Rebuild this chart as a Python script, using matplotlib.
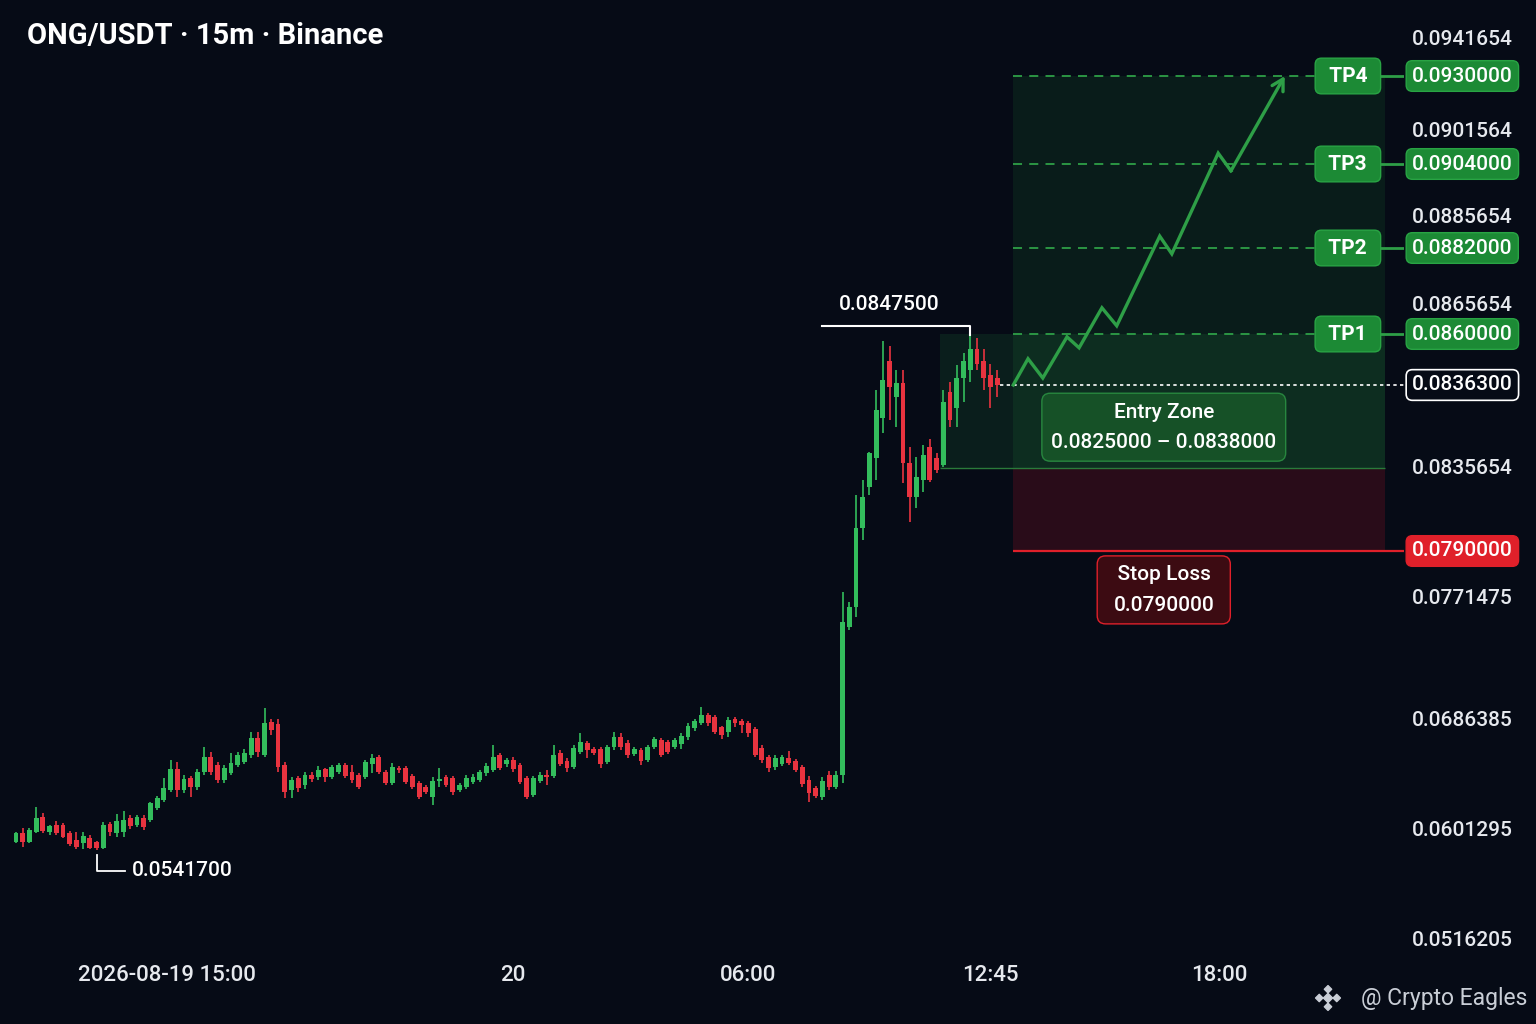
import numpy as np
import matplotlib
matplotlib.use("Agg")
import matplotlib.pyplot as plt
from matplotlib.lines import Line2D
from matplotlib.ticker import FixedLocator, FixedFormatter, NullLocator

# ---- candles (15m) ----
opens = [
    .05481, .05553, .05481, .05561, .05681, .05561, .05617, .05617, .05553, .05497, .05473, .05513,
    .05481, .05433, .05625, .05553, .05561, .05673, .05617, .05673, .05657, .05753, .05817, .05897,
    .06065, .05897, .05993, .05921, .06041, .06161, .06097, .05977, .06033, .06097, .06121, .06177,
    .06313, .06177, .06441, .06425, .06097, .05897, .05993, .05937, .06017, .06001, .06065, .06001,
    .06041, .06097, .06041, .06017, .06001, .06105, .06161, .06041, .05953, .06073, .06073, .06009,
    .05953, .05921, .05841, .05969, .06001, .05993, .05897, .05921, .05961, .05977, .06033, .06057,
    .06177, .06105, .06137, .06097, .05993, .05857, .05969, .06017, .06009, .06193, .06129, .06081,
    .06201, .06273, .06225, .06225, .06121, .06241, .06321, .06273, .06185, .06217, .06137, .06241,
    .06297, .06281, .06241, .06265, .06321, .06393, .06433, .06497, .06481, .06401, .06361, .06465,
    .06449, .06433, .06385, .06233, .06161, .06081, .06105, .06153, .06129, .06081, .05977, .05913,
    .05841, .06017, .05921, .06017, .07201, .07361, .07997, .08170, .08264, .08318, .08419, .08347,
    .08367, .08257, .08128, .08199, .08279, .08264, .08254, .08353, .08332, .08379, .08397, .08446,
    .08419, .08385, .08379,
]
highs = [
    .05561, .05593, .05593, .05761, .05713, .05617, .05649, .05633, .05569, .05561, .05561, .05537,
    .05489, .05641, .05641, .05705, .05729, .05697, .05697, .05697, .05801, .05849, .05993, .06137,
    .06121, .06017, .06009, .06065, .06241, .06201, .06121, .06097, .06193, .06201, .06225, .06361,
    .06361, .06553, .06465, .06465, .06121, .06001, .06009, .06041, .06041, .06089, .06073, .06097,
    .06113, .06113, .06097, .06033, .06137, .06185, .06177, .06057, .06113, .06089, .06089, .06025,
    .05969, .05937, .06001, .06073, .06017, .06009, .05953, .06017, .06025, .06057, .06113, .06257,
    .06193, .06153, .06161, .06113, .06009, .06009, .06041, .06057, .06257, .06217, .06153, .06257,
    .06353, .06289, .06241, .06241, .06257, .06361, .06353, .06297, .06241, .06233, .06257, .06321,
    .06313, .06297, .06313, .06353, .06433, .06465, .06561, .06513, .06497, .06409, .06481, .06481,
    .06465, .06449, .06401, .06257, .06177, .06177, .06177, .06209, .06145, .06097, .06009, .05929,
    .06001, .06049, .06049, .07496, .07401, .08136, .08199, .08272, .08356, .08464, .08453, .08397,
    .08397, .08279, .08265, .08281, .08289, .08270, .08356, .08370, .08408, .08437, .08475, .08471,
    .08446, .08412, .08397,
]
lows = [
    .05473, .05441, .05473, .05553, .05553, .05537, .05537, .05513, .05449, .05425, .05425, .05425,
    .05417, .05425, .05529, .05521, .05521, .05585, .05601, .05577, .05641, .05737, .05801, .05881,
    .05841, .05873, .05841, .05897, .06017, .06017, .05953, .05953, .06017, .06081, .06105, .06153,
    .06161, .06161, .06337, .06041, .05833, .05833, .05881, .05905, .05961, .05977, .05961, .05985,
    .06025, .05993, .05953, .05905, .05985, .06033, .06025, .05937, .05937, .06033, .05945, .05905,
    .05825, .05865, .05777, .05921, .05921, .05857, .05881, .05905, .05945, .05961, .06009, .06041,
    .06057, .06081, .06041, .05945, .05825, .05841, .05953, .05937, .05993, .06089, .06041, .06065,
    .06185, .06153, .06177, .06073, .06105, .06217, .06217, .06153, .06169, .06097, .06121, .06225,
    .06161, .06185, .06225, .06225, .06297, .06369, .06417, .06409, .06345, .06305, .06321, .06401,
    .06353, .06321, .06161, .06113, .06041, .06057, .06089, .06097, .06041, .05921, .05801, .05833,
    .05817, .05897, .05905, .05953, .07177, .07281, .07946, .08136, .08199, .08298, .08315, .08306,
    .08187, .08022, .08081, .08149, .08191, .08229, .08251, .08306, .08306, .08340, .08370, .08397,
    .08356, .08332, .08347,
]
closes = [
    .05553, .05481, .05577, .05673, .05569, .05609, .05553, .05521, .05465, .05441, .05529, .05433,
    .05433, .05617, .05561, .05649, .05657, .05609, .05681, .05601, .05793, .05833, .05913, .06065,
    .05897, .05985, .05921, .06041, .06161, .06041, .05977, .06073, .06113, .06177, .06193, .06313,
    .06201, .06433, .06377, .06081, .05881, .05977, .05913, .06017, .05985, .06057, .06001, .06081,
    .06097, .06009, .05977, .05921, .06121, .06153, .06041, .05953, .06081, .06057, .05961, .05921,
    .05841, .05881, .05969, .05985, .05937, .05881, .05937, .05993, .06001, .06041, .06089, .06161,
    .06073, .06137, .06065, .05961, .05841, .05993, .06017, .06001, .06177, .06105, .06073, .06233,
    .06281, .06217, .06193, .06105, .06241, .06321, .06241, .06177, .06225, .06129, .06241, .06305,
    .06177, .06201, .06297, .06329, .06409, .06449, .06497, .06433, .06361, .06337, .06457, .06433,
    .06417, .06353, .06177, .06137, .06073, .06153, .06161, .06113, .06057, .05945, .05873, .05849,
    .05969, .05921, .06017, .07241, .07361, .07997, .08128, .08270, .08329, .08374, .08360, .08367,
    .08257, .08128, .08212, .08268, .08199, .08242, .08340, .08315, .08379, .08419, .08446, .08412,
    .08379, .08360, .08363,
]

x_tick_pos = [22.5, 74, 109, 145, 179]
x_tick_labels = ["2026-08-19 15:00", "20", "06:00", "12:45", "18:00"]

# right-hand price labels as printed, and where the reference prints them
price_labels = ["0.0941654", "0.0901564", "0.0885654", "0.0865654", "0.0835654",
                "0.0771475", "0.0686385", "0.0601295", "0.0516205"]
price_label_at = [0.0941654, 0.091405, 0.089064, 0.086793, 0.082514,
                  0.074466, 0.06465, 0.05585, 0.04713]

# trade plan
entry_low, entry_high = 0.0825, 0.0838
stop_loss = 0.0790
targets = [0.0860, 0.0882, 0.0904, 0.0930]
target_names = ["TP1", "TP2", "TP3", "TP4"]

# projected path (candle index, price)
proj_idx = [148.4, 150.6, 152.8, 156.4, 158.2, 161.6, 163.8, 170.2, 172.0, 178.9, 180.8, 188.8]
proj_price = [0.08363, 0.08423, 0.08379, 0.08473, 0.08448, 0.08667, 0.08621,
              0.08851, 0.08805, 0.09072, 0.09022, 0.0930]

# the reference price axis is not linear: piecewise scale (price -> pixel row)
scale_price = np.array([0.04217, 0.07417, 0.0790, 0.0825, 0.08363, 0.08475,
                        0.0860, 0.0882, 0.0904, 0.0930, 0.0941654, 0.09706])
scale_row = np.array([1000, 600, 551, 468, 385, 336, 334, 248, 164, 76, 37, -60], dtype=float)


def fwd(p):
    return np.interp(p, scale_price, -scale_row)


def inv(v):
    return np.interp(v, -scale_row, scale_price)


BG = "#060b16"
GREEN = "#33bd5c"
RED = "#e8333f"
LEVEL_GREEN = "#2e9f47"
TEXT = "#e6e9ee"

plt.rcParams["font.family"] = ["Roboto", "DejaVu Sans"]
plt.rcParams["font.weight"] = "medium"

fig = plt.figure(figsize=(15.36, 10.24), dpi=100)
fig.patch.set_facecolor(BG)
ax = fig.add_axes([0, 69 / 1024, 1404 / 1536, 955 / 1024])
ax.set_facecolor(BG)
ax.set_yscale("function", functions=(fwd, inv))
ax.set_ylim(inv(-955), inv(0))
ax.set_xlim(-2.38, 206.55)
for s in ax.spines.values():
    s.set_visible(False)

o = np.array(opens)
h = np.array(highs)
l = np.array(lows)
c = np.array(closes)
idx = np.arange(len(o))
cols = np.where(c >= o, GREEN, RED)

# zones
zone_left, zone_right, entry_shade_left = 148.4, 203.7, 137.5
ax.fill_between([zone_left, zone_right], entry_low, targets[-1], color="#1f8f3c", alpha=0.13, lw=0, zorder=0)
ax.fill_between([entry_shade_left, zone_right], entry_low, targets[0], color="#2aa04a", alpha=0.13, lw=0, zorder=0.5)
ax.hlines(entry_low, entry_shade_left, zone_right, colors="#2a7a3a", lw=1.0, zorder=0.6)
ax.fill_between([zone_left, zone_right], stop_loss, entry_low, color="#b8142a", alpha=0.2, lw=0, zorder=0)

# candles
ax.vlines(idx, l, h, colors=cols, lw=1.2, zorder=2)
ax.bar(idx, np.abs(c - o), bottom=np.minimum(o, c), width=0.72, color=cols, lw=0, zorder=3)

# target lines and tags
tag_x = 198.2
ax.hlines(targets, zone_left, 193.5, colors=LEVEL_GREEN, linestyles=(0, (5, 4)), lw=1.3, zorder=1)
ax.hlines(targets, 202.8, 206.55, colors=LEVEL_GREEN, lw=2.0, zorder=1)
for t, name in zip(targets, target_names):
    ax.text(tag_x, t, f" {name} ", ha="center", va="center", fontsize=15, fontweight="bold",
            color="white", zorder=6,
            bbox=dict(boxstyle="round,pad=0.4,rounding_size=0.3", fc="#1c8a35", ec="#29a444", lw=1))

yax = ax.get_yaxis_transform()
for t in targets:
    ax.text(1.0057, t, f"{t:.7f}", transform=yax, ha="left", va="center", fontsize=15, color="white",
            bbox=dict(boxstyle="round,pad=0.28,rounding_size=0.3", fc="#1c8a35", ec="#29a444", lw=1))

# current price
last = c[-1]
ax.hlines(last, len(o) - 0.6, 206.55, colors="white", linestyles=(0, (2, 2)), lw=1.2, zorder=4)
ax.text(1.0057, last, f"{last:.7f}", transform=yax, ha="left", va="center", fontsize=15, color="white",
        bbox=dict(boxstyle="round,pad=0.28,rounding_size=0.3", fc=BG, ec="white", lw=1.2))

# stop loss
ax.hlines(stop_loss, zone_left, 206.55, colors="#e0202a", lw=1.6, zorder=4)
ax.text(1.0057, stop_loss, f"{stop_loss:.7f}", transform=yax, ha="left", va="center", fontsize=15,
        color="white", bbox=dict(boxstyle="round,pad=0.28,rounding_size=0.3", fc="#e0202a", ec="#e0202a"))

# labels inside the plan
label_x = 170.8
ax.annotate(f"Entry Zone\n{entry_low:.7f} \u2013 {entry_high:.7f}", xy=(label_x, (entry_low + entry_high) / 2),
            xytext=(0, -5), textcoords="offset points", ha="center", va="center", fontsize=15,
            color="white", linespacing=1.75, zorder=6,
            bbox=dict(boxstyle="round,pad=0.45,rounding_size=0.4", fc="#1a5e2a", ec="#2f9e48", alpha=0.75, lw=1))
ax.annotate(f"  Stop Loss  \n{stop_loss:.7f}", xy=(label_x, stop_loss), xytext=(0, -28),
            textcoords="offset points", ha="center", va="center", fontsize=15, color="white",
            linespacing=1.75, zorder=6,
            bbox=dict(boxstyle="round,pad=0.45,rounding_size=0.4", fc="#3c0b12", ec="#e0202a", lw=1))

# projected path
ax.plot(proj_idx[:-1], proj_price[:-1], color=LEVEL_GREEN, lw=2.4, zorder=5, solid_joinstyle="miter")
ax.annotate("", xy=(proj_idx[-1], proj_price[-1]), xytext=(proj_idx[-2], proj_price[-2]),
            arrowprops=dict(arrowstyle="->,head_length=0.8,head_width=0.45", color=LEVEL_GREEN, lw=2.4,
                            shrinkA=0, shrinkB=0), zorder=5)

# axes ticks
ax.yaxis.tick_right()
ax.yaxis.set_major_locator(FixedLocator(price_label_at))
ax.yaxis.set_major_formatter(FixedFormatter(price_labels))
ax.yaxis.set_minor_locator(NullLocator())
ax.tick_params(axis="y", length=0, pad=5.8, labelsize=15, labelcolor=TEXT)
ax.set_xticks(x_tick_pos, x_tick_labels)
ax.tick_params(axis="x", length=0, pad=7, labelsize=16, labelcolor=TEXT)

# high / low markers (offsets in pixels)
to_fig = fig.transFigure.inverted()


def shifted(x, y, dy):
    dx_, dy_ = ax.transData.transform((x, y))
    return to_fig.transform((dx_, dy_ + dy))


hi_idx = int(np.argmax(h))
lo_idx = int(np.argmin(l))
hi, lo = h[hi_idx], l[lo_idx]
pts = [shifted(hi_idx - 22, hi, 10), shifted(hi_idx, hi, 10), shifted(hi_idx, hi, 1)]
fig.add_artist(Line2D([p[0] for p in pts], [p[1] for p in pts], color="white", lw=1.5))
tx, ty = shifted(hi_idx - 12, hi, 31)
fig.text(tx, ty, f"{hi:.7f}", ha="center", va="center", fontsize=15, color="white")

pts = [shifted(lo_idx, lo, -5), shifted(lo_idx, lo, -21), shifted(lo_idx + 4.2, lo, -21)]
fig.add_artist(Line2D([p[0] for p in pts], [p[1] for p in pts], color="white", lw=1.3))
tx, ty = shifted(lo_idx + 5.2, lo, -21)
fig.text(tx, ty, f"{lo:.7f}", ha="left", va="center", fontsize=15, color="white")

# title and watermark
fig.text(27 / 1536, 1 - 36 / 1024, "ONG/USDT \u00b7 15m \u00b7 Binance", fontsize=21, fontweight="bold",
         color="white", va="center")
fig.text(1527 / 1536, 1 - 998 / 1024, "@ Crypto Eagles", ha="right", va="center", fontsize=16.5,
         fontweight="normal", color="#c9ced6")
logo = fig.add_axes([1314 / 1536, 1 - 1012 / 1024, 28 / 1536, 28 / 1024])
logo.set_axis_off()
logo.scatter([0, 1, 0, -1, 0], [1, 0, -1, 0, 0], marker="D", s=[14, 14, 14, 14, 22], color="#c9ced6")
logo.set_xlim(-1.6, 1.6)
logo.set_ylim(-1.6, 1.6)

fig.savefig("out.png", dpi=100, facecolor=fig.get_facecolor())
